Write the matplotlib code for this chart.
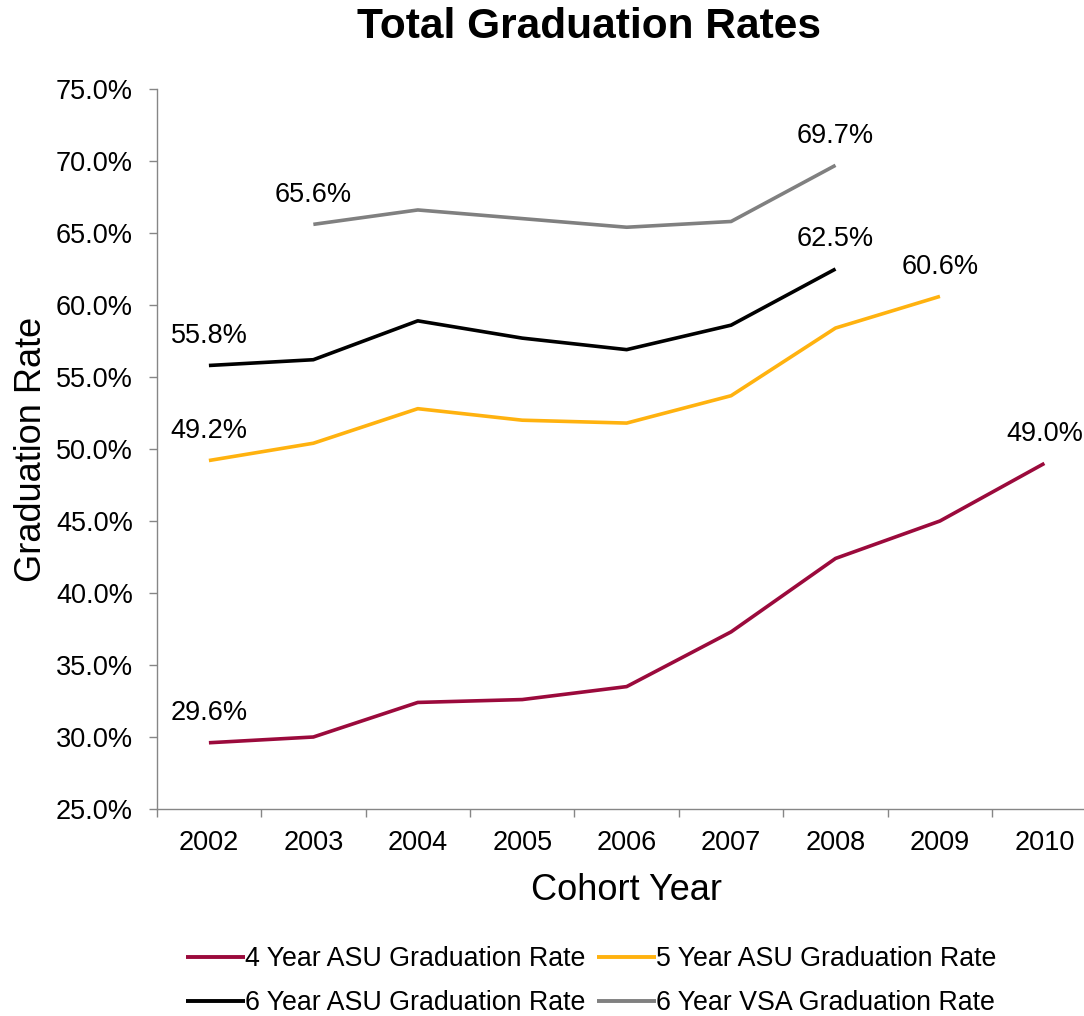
import matplotlib
matplotlib.use("Agg")
import matplotlib.pyplot as plt
import numpy as np

plt.rcParams['font.family'] = ['Liberation Sans', 'DejaVu Sans']

years = ["2002", "2003", "2004", "2005", "2006", "2007", "2008", "2009", "2010"]
rate_4yr_asu = [29.6, 30.0, 32.4, 32.6, 33.5, 37.3, 42.4, 45.0, 49.0]
rate_5yr_asu = [49.2, 50.4, 52.8, 52.0, 51.8, 53.7, 58.4, 60.6, None]
rate_6yr_asu = [55.8, 56.2, 58.9, 57.7, 56.9, 58.6, 62.5, None, None]
rate_6yr_vsa = [None, 65.6, 66.6, 66.0, 65.4, 65.8, 69.7, None, None]

series = [
    ("4 Year ASU Graduation Rate", rate_4yr_asu, "#9B0A3C"),
    ("5 Year ASU Graduation Rate", rate_5yr_asu, "#FFB20F"),
    ("6 Year ASU Graduation Rate", rate_6yr_asu, "#000000"),
    ("6 Year VSA Graduation Rate", rate_6yr_vsa, "#808080"),
]

FS = 19.5
fig = plt.figure(figsize=(10.84, 10.16), dpi=100)
ax = fig.add_axes([156.7 / 1084, 207 / 1016, (1096.6 - 156.7) / 1084, 720 / 1016])

x = np.arange(len(years))
handles = []
for name, vals, color in series:
    xs = [xi for xi, v in zip(x, vals) if v is not None]
    ys = [v for v in vals if v is not None]
    h, = ax.plot(xs, ys, color=color, lw=2.6, label=name, solid_capstyle='butt')
    handles.append(h)
    for xi, yi in ((xs[0], ys[0]), (xs[-1], ys[-1])):
        ax.annotate(f"{yi:.1f}%", (xi, yi), xytext=(0, 12), textcoords='offset points',
                    ha='center', va='bottom', fontsize=FS, color='black')

ax.set_xlim(-0.5, len(years) - 0.5)
ax.set_ylim(25, 75)
ax.set_yticks(np.arange(25, 75.1, 5))
ax.set_yticklabels([f"{v:.1f}%" for v in np.arange(25, 75.1, 5)], fontsize=FS)
ax.set_xticks(x)
ax.set_xticklabels(years, fontsize=FS)
ax.set_xticks(np.arange(-0.5, len(years), 1), minor=True)
ax.tick_params(axis='x', which='major', length=0, pad=15)
ax.tick_params(axis='x', which='minor', length=6, color='#868686', width=1)
ax.tick_params(axis='y', length=6, color='#868686', width=1, pad=11)

for s in ['top', 'right']:
    ax.spines[s].set_visible(False)
for s in ['left', 'bottom']:
    ax.spines[s].set_color('#868686')
    ax.spines[s].set_linewidth(1)

ax.set_xlabel("Cohort Year", fontsize=26, labelpad=12)
ax.set_ylabel("Graduation Rate", fontsize=26, labelpad=5)
fig.text(589 / 1084, 1 - 27 / 1016, "Total Graduation Rates", ha='center', va='center',
         fontsize=30.5, fontweight='bold')

order = [0, 2, 1, 3]
leg = fig.legend([handles[i] for i in order], [series[i][0] for i in order],
                 loc='center', bbox_to_anchor=(591 / 1084, 1 - 981 / 1016), ncol=2,
                 frameon=False, fontsize=19.3, handlelength=2.2, handletextpad=0.0,
                 columnspacing=0.45, labelspacing=0.68)
for line in leg.get_lines():
    line.set_linewidth(2.8)

fig.savefig("out.png", dpi=100)
